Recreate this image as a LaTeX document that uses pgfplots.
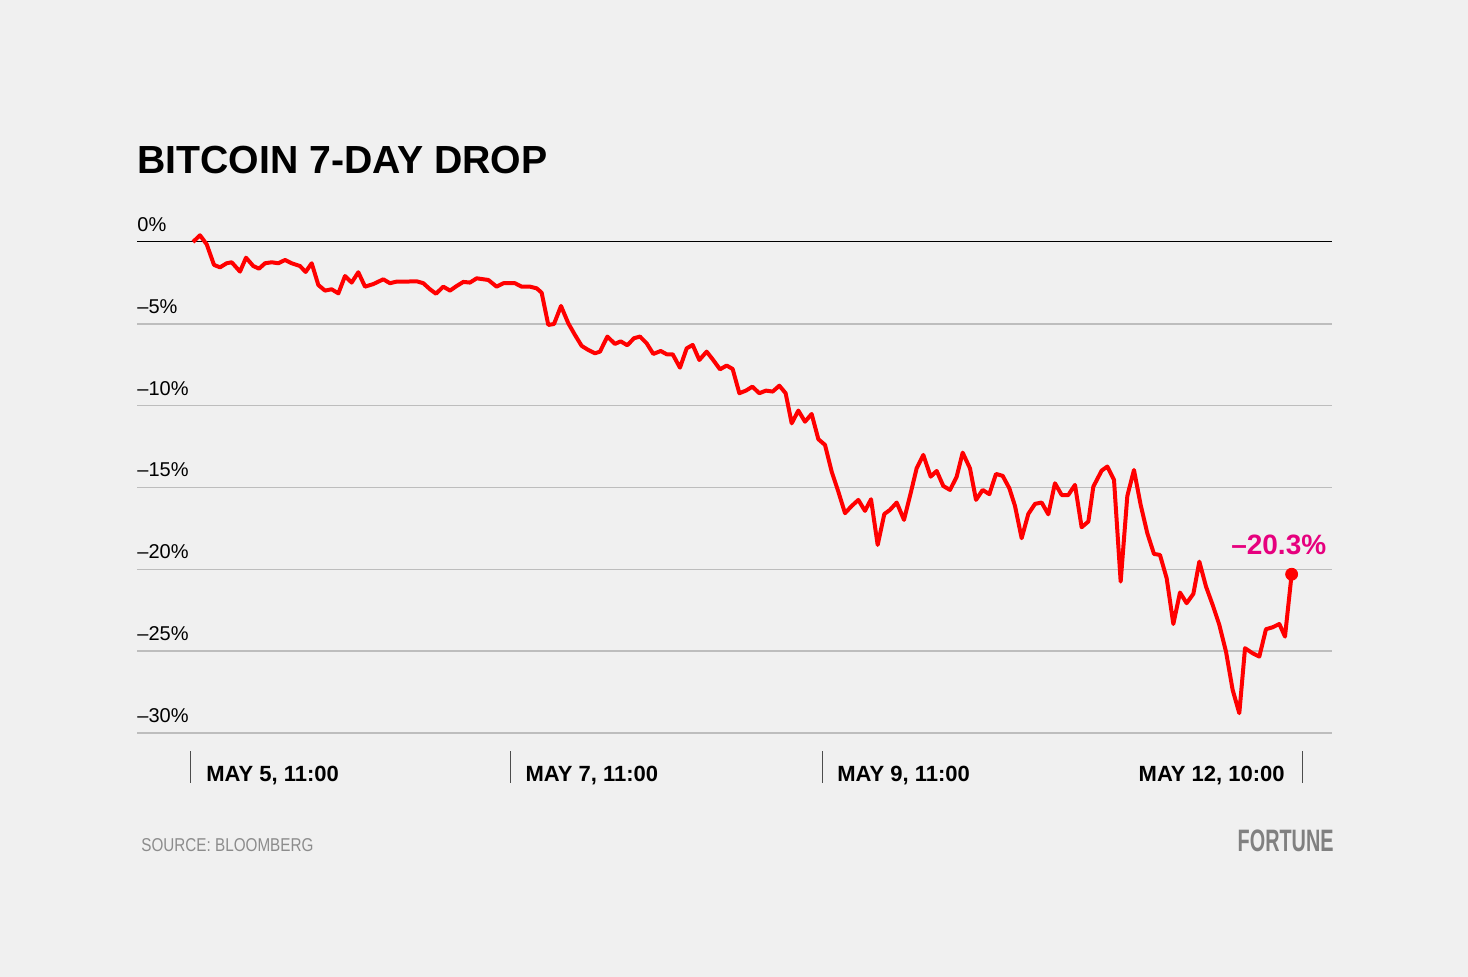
\documentclass[border=0pt]{standalone}
\usepackage{pgfplots}
\pgfplotsset{compat=1.18}
\usepackage{pgfplotstable}
\usepackage{fontspec}
\setmainfont{Liberation Sans}
\newfontfamily\condfont[FakeStretch=0.82]{Liberation Sans}
\newfontfamily\logofont[FakeStretch=0.64]{Liberation Sans}

\definecolor{bg}{HTML}{F0F0F0}
\definecolor{gridgray}{HTML}{BDBDBD}
\definecolor{linered}{HTML}{FF0000}
\definecolor{endpink}{HTML}{E6007E}
\definecolor{srcgray}{HTML}{8C8C8C}
\definecolor{logogray}{HTML}{808080}

% hours since May 5, 11:00 -- change in percent
\pgfplotstableread{
h y
0.30 0.00
1.35 0.41
2.36 -0.14
3.46 -1.40
4.36 -1.55
5.36 -1.30
6.12 -1.24
7.37 -1.81
8.27 -0.96
9.37 -1.47
10.23 -1.63
11.13 -1.30
12.13 -1.24
13.13 -1.30
14.14 -1.10
15.14 -1.30
16.39 -1.47
17.24 -1.83
18.15 -1.30
19.15 -2.63
20.15 -2.97
21.15 -2.89
22.16 -3.14
23.16 -2.08
24.16 -2.48
25.16 -1.85
26.17 -2.73
27.42 -2.57
28.92 -2.28
29.92 -2.52
30.93 -2.42
32.43 -2.42
33.93 -2.40
34.94 -2.52
35.94 -2.89
36.84 -3.16
37.94 -2.73
38.95 -2.97
39.95 -2.69
40.95 -2.44
41.95 -2.48
42.96 -2.22
44.71 -2.32
45.96 -2.73
46.97 -2.52
48.72 -2.52
49.72 -2.73
50.98 -2.73
51.98 -2.83
52.73 -3.10
53.73 -5.07
54.59 -5.01
55.64 -3.91
56.74 -4.97
57.74 -5.68
58.75 -6.35
59.75 -6.60
60.75 -6.80
61.50 -6.70
62.61 -5.78
63.76 -6.23
64.61 -6.07
65.61 -6.31
66.62 -5.88
67.52 -5.78
68.52 -6.19
69.52 -6.84
70.63 -6.66
71.53 -6.86
72.43 -6.86
73.53 -7.68
74.54 -6.50
75.44 -6.29
76.44 -7.21
77.54 -6.70
78.45 -7.17
79.55 -7.78
80.55 -7.55
81.45 -7.76
82.46 -9.24
83.46 -9.08
84.41 -8.84
85.46 -9.24
86.47 -9.08
87.47 -9.14
88.47 -8.78
89.42 -9.24
90.33 -11.08
91.33 -10.30
92.33 -10.98
93.33 -10.51
94.34 -12.05
95.34 -12.40
96.34 -14.03
97.34 -15.25
98.35 -16.57
99.35 -16.13
100.35 -15.76
101.35 -16.43
102.26 -15.72
103.26 -18.51
104.26 -16.62
105.11 -16.37
106.12 -15.92
107.22 -16.98
108.22 -15.35
109.12 -13.83
110.12 -13.01
111.23 -14.34
112.13 -13.99
113.13 -14.91
114.14 -15.15
115.14 -14.34
116.04 -12.87
117.14 -13.83
118.05 -15.76
119.05 -15.15
120.05 -15.41
121.05 -14.17
122.06 -14.29
123.06 -15.05
123.91 -16.13
124.91 -18.10
125.91 -16.62
126.92 -16.00
127.92 -15.92
128.92 -16.64
129.92 -14.74
130.93 -15.46
131.93 -15.46
132.93 -14.84
133.93 -17.43
134.94 -17.08
135.69 -14.95
136.94 -13.97
137.79 -13.72
138.80 -14.54
139.80 -20.75
140.80 -15.52
141.80 -13.93
142.81 -16.07
143.81 -17.80
144.81 -19.06
145.71 -19.12
146.72 -20.55
147.72 -23.34
148.72 -21.42
149.72 -22.07
150.73 -21.50
151.63 -19.53
152.63 -21.05
153.63 -22.17
154.64 -23.40
155.64 -25.03
156.64 -27.37
157.64 -28.79
158.50 -24.82
159.65 -25.13
160.65 -25.33
161.65 -23.66
162.66 -23.54
163.66 -23.34
164.51 -24.11
165.51 -20.30
}\btcdata

\begin{document}
\begin{tikzpicture}
% page background, 1468 x 977 px at 0.5pt per px
\fill[bg] (0pt,0pt) rectangle (734pt,488.5pt);

\node[anchor=base west, inner sep=0pt, font=\fontsize{19.6}{22}\selectfont\bfseries]
  at (68.5pt,401.8pt) {BITCOIN 7-DAY DROP};

\begin{axis}[
    at={(68.5pt,122pt)}, anchor=south west,
    scale only axis, width=597.5pt, height=245.5pt,
    xmin=-8.12, xmax=171.58, ymin=-30, ymax=0,
    clip=false,
    axis line style={draw=none},
    ytick={-30,-25,-20,-15,-10,-5},
    yticklabels={–30\%,–25\%,–20\%,–15\%,–10\%,–5\%},
    extra y ticks={0}, extra y tick labels={0\%},
    extra y tick style={grid style={black, line width=0.5pt}},
    ymajorgrids, grid style={gridgray, line width=0.7pt},
    ytick style={draw=none},
    yticklabel style={anchor=base west, inner sep=0pt, xshift=16pt, yshift=5.3pt,
      font=\fontsize{10}{12}\selectfont},
    xtick={0,48,94.89},
    xticklabels={{MAY 5{,} 11:00},{MAY 7{,} 11:00},{MAY 9{,} 11:00}},
    extra x ticks={167.07}, extra x tick labels={MAY 12{,} 10:00},
    extra x tick style={xticklabel style={anchor=base east, xshift=-16pt}},
    xtick pos=left, tick align=outside, major tick length=16pt,
    xtick style={draw=black!70, line width=0.5pt, yshift=-8.85pt},
    xticklabel style={anchor=base west, inner sep=0pt, xshift=7.5pt, yshift=-8.5pt,
      font=\fontsize{11}{13}\selectfont\bfseries},
]
\addplot[linered, line width=2pt, line join=round, mark=none] table[x=h, y=y] {\btcdata};
\addplot[linered, only marks, mark=*, mark size=3pt] coordinates {(165.51,-20.30)};
\node[anchor=base east, inner sep=0pt, text=endpink, xshift=17.5pt, yshift=10pt,
  font=\fontsize{14}{16}\selectfont\bfseries] at (axis cs:165.51,-20.30) {–20.3\%};
\end{axis}

\node[anchor=base west, inner sep=0pt, text=srcgray, font=\fontsize{9.3}{11}\condfont]
  at (70.5pt,62.6pt) {SOURCE: BLOOMBERG};
\node[anchor=base east, inner sep=0pt, text=logogray, font=\fontsize{15.5}{18}\logofont\bfseries]
  at (667pt,62.5pt) {FORTUNE};
\end{tikzpicture}
\end{document}
